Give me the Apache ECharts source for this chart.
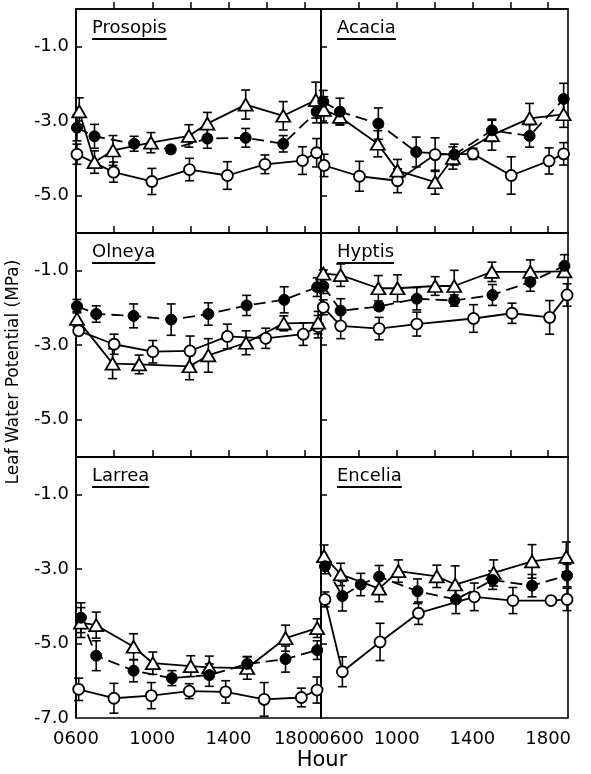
<!DOCTYPE html>
<html lang="en">
<head>
<meta charset="UTF-8">
<title>Leaf Water Potential</title>
<script src="https://cdn.jsdelivr.net/npm/echarts@6/dist/echarts.min.js"></script>
<style>
  html, body { margin: 0; padding: 0; background: #fff; }
  #main { width: 591px; height: 774px; }
</style>
</head>
<body>
<div id="main"></div>
<script>
// each point: [hour, water potential (MPa), error bar half length]
var prosopisFilled = [[6.05,-3.18,0.35],[6.97,-3.41,0.32],[9.05,-3.61,0.2],[10.97,-3.76,0.1],[12.89,-3.47,0.26],[14.9,-3.45,0.25],[16.87,-3.61,0.22],[18.62,-2.75,0.3]];
var prosopisOpen   = [[6.05,-3.89,0.27],[7.97,-4.37,0.27],[9.98,-4.62,0.35],[11.95,-4.30,0.3],[13.94,-4.46,0.37],[15.91,-4.16,0.25],[17.88,-4.06,0.37],[18.62,-3.85,0.38]];
var prosopisTri    = [[6.17,-2.74,0.36],[6.97,-4.10,0.3],[7.94,-3.79,0.4],[9.93,-3.58,0.27],[11.92,-3.40,0.3],[12.89,-3.07,0.3],[14.9,-2.56,0.39],[16.87,-2.86,0.38],[18.58,-2.44,0.48]];

var acaciaFilled = [[6.12,-2.48,0.3],[7.0,-2.75,0.36],[9.03,-3.07,0.42],[11.03,-3.83,0.4],[13.04,-3.9,0.28],[15.03,-3.25,0.3],[17.02,-3.40,0.3],[18.82,-2.41,0.42]];
var acaciaOpen   = [[6.16,-4.19,0.3],[8.03,-4.48,0.4],[10.04,-4.6,0.32],[12.03,-3.9,0.45],[14.03,-3.88,0.15],[16.05,-4.46,0.5],[18.05,-4.07,0.35],[18.82,-3.88,0.3]];
var acaciaTri    = [[6.15,-2.7,0.35],[7.0,-2.89,0.2],[9.0,-3.61,0.35],[10.04,-4.33,0.3],[12.03,-4.64,0.32],[12.97,-3.99,0.3],[15.03,-3.38,0.4],[17.02,-2.93,0.4],[18.82,-2.82,0.35]];

var olneyaFilled = [[6.05,-1.96,0.18],[7.06,-2.17,0.22],[9.02,-2.22,0.32],[10.99,-2.32,0.42],[12.94,-2.17,0.3],[14.95,-1.94,0.27],[16.92,-1.79,0.35],[18.65,-1.45,0.25]];
var olneyaOpen   = [[6.14,-2.62,0.1],[8.0,-2.98,0.27],[10.03,-3.18,0.3],[11.98,-3.16,0.4],[13.94,-2.77,0.33],[15.95,-2.82,0.27],[17.92,-2.71,0.3],[18.7,-2.51,0.3]];
var olneyaTri    = [[6.05,-2.3,0.2],[7.92,-3.5,0.4],[9.31,-3.52,0.25],[11.95,-3.57,0.36],[12.94,-3.28,0.45],[14.92,-2.94,0.32],[16.9,-2.42,0.2],[18.7,-2.4,0.3]];

var hyptisFilled = [[6.12,-1.42,0.2],[7.04,-2.08,0.32],[9.07,-1.97,0.1],[11.06,-1.76,0.3],[13.04,-1.81,0.15],[15.06,-1.66,0.28],[17.06,-1.31,0.25],[18.86,-0.88,0.3]];
var hyptisOpen   = [[6.12,-1.99,0.2],[7.04,-2.49,0.34],[9.07,-2.56,0.3],[11.06,-2.44,0.32],[14.06,-2.29,0.37],[16.09,-2.15,0.27],[18.08,-2.26,0.45],[19.0,-1.66,0.3]];
var hyptisTri    = [[6.12,-1.09,0.1],[7.04,-1.13,0.3],[9.03,-1.48,0.34],[10.04,-1.48,0.36],[12.03,-1.42,0.25],[13.04,-1.42,0.42],[15.03,-1.04,0.26],[17.06,-1.04,0.32],[18.86,-1.03,0.1]];

var larreaFilled = [[6.26,-4.31,0.4],[7.06,-5.33,0.4],[9.02,-5.73,0.3],[11.03,-5.93,0.2],[12.99,-5.85,0.3],[14.98,-5.55,0.2],[16.99,-5.42,0.35],[18.65,-5.18,0.25]];
var larreaOpen   = [[6.14,-6.23,0.3],[7.99,-6.47,0.4],[9.95,-6.4,0.35],[11.94,-6.28,0.2],[13.85,-6.3,0.3],[15.87,-6.5,0.45],[17.82,-6.45,0.25],[18.64,-6.25,0.35]];
var larreaTri    = [[6.26,-4.44,0.4],[7.06,-4.51,0.35],[9.02,-5.09,0.35],[10.03,-5.53,0.3],[12.02,-5.61,0.28],[12.99,-5.64,0.3],[14.98,-5.66,0.3],[16.99,-4.86,0.35],[18.65,-4.59,0.25]];

var enceliaFilled = [[6.21,-2.93,0.2],[7.13,-3.73,0.4],[8.1,-3.42,0.3],[9.07,-3.21,0.3],[11.1,-3.6,0.33],[13.13,-3.82,0.38],[15.07,-3.3,0.25],[17.15,-3.45,0.3],[19.0,-3.18,0.3]];
var enceliaOpen   = [[6.21,-3.82,0.2],[7.13,-5.76,0.4],[9.12,-4.96,0.5],[11.15,-4.19,0.3],[14.1,-3.75,0.37],[16.14,-3.85,0.35],[18.15,-3.85,0],[19.0,-3.82,0.3]];
var enceliaTri    = [[6.16,-2.66,0.3],[7.04,-3.15,0.3],[9.07,-3.53,0.35],[10.09,-3.06,0.3],[12.12,-3.2,0.3],[13.09,-3.42,0.5],[15.12,-3.11,0.35],[17.15,-2.8,0.45],[18.96,-2.68,0.4]];

var panelNames = ['Prosopis', 'Acacia', 'Olneya', 'Hyptis', 'Larrea', 'Encelia'];
var filledSets = [prosopisFilled, acaciaFilled, olneyaFilled, hyptisFilled, larreaFilled, enceliaFilled];
var openSets   = [prosopisOpen, acaciaOpen, olneyaOpen, hyptisOpen, larreaOpen, enceliaOpen];
var triSets    = [prosopisTri, acaciaTri, olneyaTri, hyptisTri, larreaTri, enceliaTri];

var hourLabels = [6, 10, 14, 18];
var hourTicks  = [8, 10, 12, 14, 16, 18];
var mpaTicks   = [-1, -3, -5];
var mpaLabelsBottom = [-1, -3, -5, -7];

var FONT = 'DejaVu Sans';
var myChart = echarts.init(document.getElementById('main'));

// panel boxes (px)
var colLeft = [76, 321], colWidth = [245, 247], colMax = [18.85, 19.05];
var rowTop = [9, 233, 457], rowHeight = [224, 224, 261], rowMin = [-6, -6, -7];

var grids = [], xAxes = [], yAxes = [], series = [], graphics = [];

var measure = document.createElement('canvas').getContext('2d');
measure.font = '18px "' + FONT + '"';

function hourText(v) {
    return (v < 10 ? '0' : '') + v + '00';
}

function errorBars(data, idx) {
    return {
        type: 'custom',
        xAxisIndex: idx,
        yAxisIndex: idx,
        silent: true,
        z: 1,
        clip: false,
        encode: {x: 0, y: [1, 2]},
        data: data.map(function (d) { return [d[0], d[1] - d[2], d[1] + d[2]]; }),
        renderItem: function (params, api) {
            var lo = api.coord([api.value(0), api.value(1)]);
            var hi = api.coord([api.value(0), api.value(2)]);
            var w = 4.5;
            var st = {stroke: '#000', lineWidth: 1.6};
            return {
                type: 'group',
                children: [
                    {type: 'line', shape: {x1: lo[0], y1: lo[1], x2: hi[0], y2: hi[1]}, style: st},
                    {type: 'line', shape: {x1: lo[0] - w, y1: lo[1], x2: lo[0] + w, y2: lo[1]}, style: st},
                    {type: 'line', shape: {x1: hi[0] - w, y1: hi[1], x2: hi[0] + w, y2: hi[1]}, style: st}
                ]
            };
        }
    };
}

function lineSeries(data, idx, kind) {
    var s = {
        type: 'line',
        xAxisIndex: idx,
        yAxisIndex: idx,
        z: 3,
        clip: false,
        data: data.map(function (d) { return [d[0], d[1]]; }),
        lineStyle: {color: '#000', width: 1.8, type: 'solid'},
        itemStyle: {color: '#fff', borderColor: '#000', borderWidth: 1.8},
        symbol: 'circle',
        symbolSize: 11
    };
    if (kind === 'filled') {
        s.itemStyle = {color: '#000', borderColor: '#000', borderWidth: 1};
        s.lineStyle.type = [12, 6];
    }
    if (kind === 'tri') {
        s.symbol = 'triangle';
        s.symbolSize = [14, 12];
    }
    return s;
}

for (var i = 0; i < 6; i++) {
    var col = i % 2, row = Math.floor(i / 2);
    grids.push({
        left: colLeft[col], top: rowTop[row], width: colWidth[col], height: rowHeight[row],
        show: true, borderColor: '#000', borderWidth: 1.6, backgroundColor: 'transparent'
    });

    var labelRich = {
        n: {fontSize: 18, fontFamily: FONT, color: '#000'},
        r: {fontSize: 18, fontFamily: FONT, color: '#000', padding: [0, 0, 0, 40]},
        l: {fontSize: 18, fontFamily: FONT, color: '#000', padding: [0, 16, 0, 0]}
    };
    xAxes.push({
        type: 'value', gridIndex: i, min: 6, max: colMax[col],
        axisLine: {show: true, lineStyle: {color: '#000', width: 1.6}},
        axisTick: {show: true, inside: true, length: 7, customValues: hourTicks, lineStyle: {color: '#000', width: 1.5}},
        splitLine: {show: false},
        axisLabel: {
            show: row === 2, customValues: hourLabels, margin: 12,
            fontSize: 18, fontFamily: FONT, color: '#000',
            rich: labelRich,
            formatter: (function (c) {
                return function (v) {
                    if (c === 1 && v === 6) return '{r|' + hourText(v) + '}';
                    if (c === 0 && v === 18) return '{l|' + hourText(v) + '}';
                    return '{n|' + hourText(v) + '}';
                };
            })(col)
        }
    });
    yAxes.push({
        type: 'value', gridIndex: i, min: rowMin[row], max: 0,
        axisLine: {show: true, lineStyle: {color: '#000', width: 1.6}},
        axisTick: {show: true, inside: true, length: 6, customValues: mpaTicks, lineStyle: {color: '#000', width: 1.5}},
        splitLine: {show: false},
        axisLabel: {
            show: col === 0, customValues: row === 2 ? mpaLabelsBottom : mpaTicks,
            margin: 7, fontSize: 18, fontFamily: FONT, color: '#000',
            formatter: function (v) { return v.toFixed(1); }
        }
    });

    series.push(errorBars(openSets[i], i));
    series.push(errorBars(triSets[i], i));
    series.push(errorBars(filledSets[i], i));
    series.push(lineSeries(openSets[i], i, 'open'));
    series.push(lineSeries(triSets[i], i, 'tri'));
    series.push(lineSeries(filledSets[i], i, 'filled'));

    // panel name, underlined
    var tx = colLeft[col] + 16, ty = rowTop[row] + 25;
    var tw = measure.measureText(panelNames[i]).width;
    graphics.push({
        type: 'text', left: tx, top: ty - 15, z: 10,
        style: {text: panelNames[i], font: '18px "' + FONT + '"', fill: '#000'}
    });
    graphics.push({
        type: 'line', z: 10,
        shape: {x1: tx, y1: ty + 5, x2: tx + tw, y2: ty + 5},
        style: {stroke: '#000', lineWidth: 2}
    });
}

graphics.push({
    type: 'text', x: 14, y: 372, rotation: Math.PI / 2,
    style: {text: 'Leaf Water Potential (MPa)', font: '17px "' + FONT + '"', fill: '#000',
            textAlign: 'center', textVerticalAlign: 'middle'}
});
graphics.push({
    type: 'text', x: 322, y: 761,
    style: {text: 'Hour', font: '21px "' + FONT + '"', fill: '#000',
            textAlign: 'center', textVerticalAlign: 'middle'}
});

var option = {
    animation: false,
    backgroundColor: '#fff',
    grid: grids,
    xAxis: xAxes,
    yAxis: yAxes,
    series: series,
    graphic: graphics
};

myChart.setOption(option);
</script>
</body>
</html>
